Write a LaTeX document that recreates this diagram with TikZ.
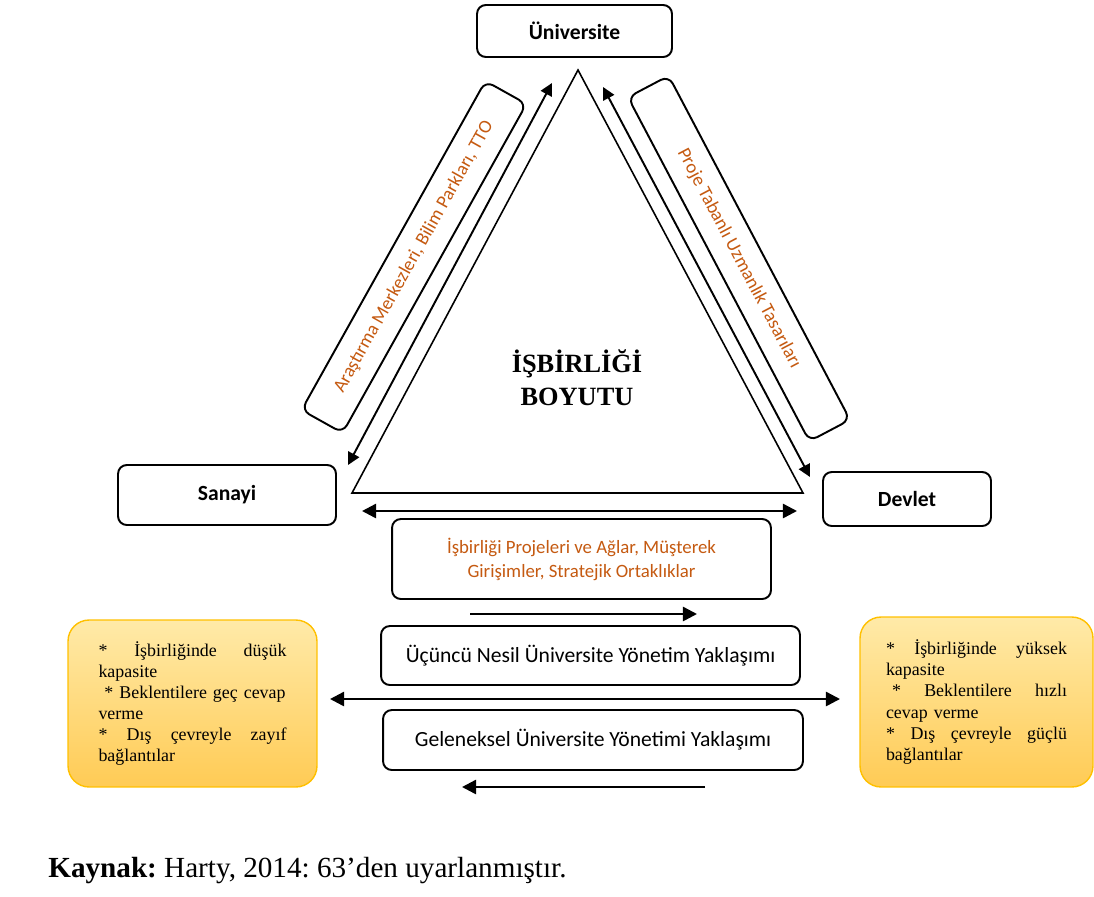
\documentclass[tikz,border=0pt]{standalone}
\usepackage{fontspec}
\setmainfont{Liberation Serif}
\newfontfamily\calibri{Carlito}
\usepackage{xcolor}
\usepackage{tikz}
\usetikzlibrary{arrows.meta, positioning}

\definecolor{turuncu}{HTML}{C55A11}
\definecolor{altin}{HTML}{FFC000}
\definecolor{acik}{HTML}{FFEAA8}
\definecolor{koyu}{HTML}{FFCB55}

\begin{document}
\begin{tikzpicture}[x=0.02cm, y=-0.02cm,
    kutu/.style={draw, line width=1.1pt, rounded corners=5pt, fill=white, inner sep=0pt, align=center},
    aktor/.style={kutu, font=\calibri\bfseries\fontsize{12.3}{14}\selectfont},
    yaklasim/.style={kutu, font=\calibri\fontsize{12.3}{14}\selectfont},
    egik/.style={kutu, font=\calibri\fontsize{10.7}{13.6}\selectfont, text=turuncu},
    ozellik/.style={draw=altin, line width=0.8pt, rounded corners=12pt, top color=acik, bottom color=koyu,
        align=left, font=\fontsize{10.2}{12}\selectfont},
    ok/.style={line width=1.4pt, -{Triangle[length=8pt,width=8pt]}},
    ciftok/.style={line width=1.4pt, {Triangle[length=8pt,width=8pt]}-{Triangle[length=8pt,width=8pt]}},
    yanok/.style={line width=1.1pt, {Triangle[length=7pt,width=7pt]}-{Triangle[length=7pt,width=7pt]}}]
    \useasboundingbox (0,0) rectangle (1094,896);

    % actors
    \node[aktor, minimum width=3.9cm, minimum height=1.04cm] (univ) at (574.5,31) {Üniversite};
    \node[aktor, minimum width=4.36cm, minimum height=1.2cm] (sanayi) at (227,495) {Sanayi};
    \node[aktor, minimum width=3.36cm, minimum height=1.08cm] (devlet) at (907,499) {Devlet};

    % triangle
    \coordinate (tepe) at (578,70);
    \coordinate (solkose) at (352,493);
    \coordinate (sagkose) at (803,493);
    \draw[line width=0.9pt] (tepe) -- (solkose) -- (sagkose) -- cycle;
    \node[align=center, font=\bfseries\fontsize{15}{18.7}\selectfont] (boyut) at (577,378) {İŞBİRLİĞİ\\BOYUTU};

    % side boxes
    \node[egik, rotate=60.8, minimum width=7.54cm, minimum height=0.94cm] (arastirma) at (414,257)
        {Araştırma Merkezleri, Bilim Parkları, TTO};
    \node[egik, rotate=-62.2, minimum width=7.78cm, minimum height=0.92cm] (proje) at (739,258.5)
        {Proje Tabanlı Uzmanlık Tasarıları};
    \coordinate (solust) at (552,83);
    \coordinate (solalt) at (348,465);
    \coordinate (sagust) at (603,87);
    \coordinate (sagalt) at (810,477);
    \draw[yanok] (solust) -- (solalt);
    \draw[yanok] (sagust) -- (sagalt);

    % bottom boxes
    \node[egik, minimum width=7.58cm, minimum height=1.6cm] (ortak) at (581.5,559)
        {İşbirliği Projeleri ve Ağlar, Müşterek\\Girişimler, Stratejik Ortaklıklar};
    \node[yaklasim, minimum width=8.38cm, minimum height=1.18cm] (ucuncu) at (590.5,655.5)
        {Üçüncü Nesil Üniversite Yönetim Yaklaşımı};
    \node[yaklasim, minimum width=8.4cm, minimum height=1.2cm] (geleneksel) at (593,740)
        {Geleneksel Üniversite Yönetimi Yaklaşımı};

    \coordinate (a1) at (362,511);
    \coordinate (a2) at (797,511);
    \coordinate (b1) at (470,614);
    \coordinate (b2) at (697,614);
    \coordinate (c1) at (330,699);
    \coordinate (c2) at (840,699);
    \coordinate (d1) at (705,787);
    \coordinate (d2) at (462,787);
    \draw[ciftok] (a1) -- (a2);
    \draw[ok] (b1) -- (b2);
    \draw[ciftok] (c1) -- (c2);
    \draw[ok] (d1) -- (d2);

    % capacities
    \node[ozellik, text width=3.76cm, minimum width=4.98cm, minimum height=3.34cm] (dusuk) at (192.5,703.5)
        {{*}\hfill İşbirliğinde\hfill düşük\\
         kapasite\\
         \ {*} Beklentilere geç cevap\\
         verme\\
         {*}\hfill Dış\hfill çevreyle\hfill zayıf\\
         bağlantılar};
    \node[ozellik, text width=3.62cm, minimum width=4.66cm, minimum height=3.4cm] (yuksek) at (976.5,702)
        {{*}\hfill İşbirliğinde\hfill yüksek\\
         kapasite\\
         \ {*}\hfill Beklentilere\hfill hızlı\\
         cevap verme\\
         {*}\hfill Dış\hfill çevreyle\hfill güçlü\\
         bağlantılar};

    \node[anchor=base west, inner sep=0pt, font=\fontsize{16.6}{19}\selectfont] (kaynak) at (48,877)
        {\frenchspacing\textbf{Kaynak:} Harty, 2014: 63’den uyarlanmıştır.};
\end{tikzpicture}
\end{document}
